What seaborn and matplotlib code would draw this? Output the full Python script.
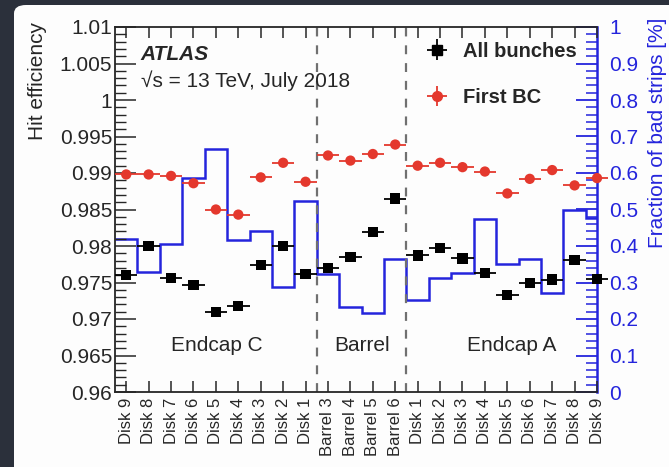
import numpy as np
import pandas as pd
import matplotlib
matplotlib.use("Agg")
import matplotlib.pyplot as plt
from matplotlib.patches import FancyBboxPatch
from matplotlib.ticker import MultipleLocator, FuncFormatter
import seaborn as sns

# ---- data -------------------------------------------------------------
layers = ["Disk 9", "Disk 8", "Disk 7", "Disk 6", "Disk 5", "Disk 4", "Disk 3",
          "Disk 2", "Disk 1", "Barrel 3", "Barrel 4", "Barrel 5", "Barrel 6",
          "Disk 1", "Disk 2", "Disk 3", "Disk 4", "Disk 5", "Disk 6", "Disk 7",
          "Disk 8", "Disk 9"]

eff_all_bunches = [0.9760, 0.9800, 0.9756, 0.9747, 0.9710, 0.9718, 0.9774,
                   0.9800, 0.9762, 0.9770, 0.9785, 0.9819, 0.9865,
                   0.9787, 0.9797, 0.9783, 0.9763, 0.9733, 0.9749, 0.9754,
                   0.9781, 0.9755]

eff_first_bc = [0.9898, 0.9898, 0.9896, 0.9886, 0.9850, 0.9843, 0.9894,
                0.9914, 0.9888, 0.9924, 0.9917, 0.9926, 0.9939,
                0.9910, 0.9914, 0.9908, 0.9902, 0.9872, 0.9892, 0.9904,
                0.9883, 0.9893]

bad_strip_fraction = [0.418, 0.330, 0.405, 0.585, 0.666, 0.416, 0.442,
                      0.288, 0.524, 0.322, 0.234, 0.217, 0.364,
                      0.252, 0.313, 0.325, 0.473, 0.350, 0.364, 0.270,
                      0.500, 0.476]

regions = ["Endcap C", "Barrel", "Endcap A"]

# ---- style ------------------------------------------------------------
sns.set_theme(style="ticks")
plt.rcParams["font.family"] = ["Liberation Sans", "DejaVu Sans"]
plt.rcParams["axes.linewidth"] = 1.3

BLUE = "#2424dc"
RED = "#e4382d"
FS = 15

x = np.arange(len(layers))
df = pd.DataFrame({"x": np.concatenate([x, x]),
                   "eff": eff_all_bunches + eff_first_bc,
                   "sample": ["All bunches"] * len(x) + ["First BC"] * len(x)})

fig = plt.figure(figsize=(6.69, 4.67), dpi=100)
fig.patch.set_facecolor("#2b303b")
card = FancyBboxPatch((14 / 669, -0.1), 1.2, 1.1 - 5 / 467,
                      boxstyle="round,pad=0,rounding_size=0.018",
                      transform=fig.transFigure, facecolor="#fdfdfd",
                      edgecolor="none", zorder=-5)
fig.patches.append(card)

ax = fig.add_axes([115 / 669, 1 - 392 / 467, 482 / 669, 365 / 467])
ax2 = ax.twinx()
ax2.set_zorder(1)
ax.set_zorder(2)
ax.patch.set_visible(False)
ax2.patch.set_visible(False)

# bad-strip fraction histogram on the right-hand scale
edges = np.arange(len(layers) + 1) - 0.5
ax2.stairs(bad_strip_fraction, edges, color=BLUE, lw=1.8, baseline=None)
ax2.set_ylim(0, 1)

# efficiencies with horizontal bin-width bars
for col, color in [("All bunches", "black"), ("First BC", RED)]:
    sub = df[df["sample"] == col]
    ax.errorbar(sub["x"], sub["eff"], xerr=0.5, yerr=0.0001, fmt="none",
                ecolor=color, elinewidth=1.3, capsize=0, clip_on=False, zorder=3)
sns.scatterplot(data=df, x="x", y="eff", hue="sample", style="sample",
                palette={"All bunches": "black", "First BC": RED},
                markers={"All bunches": "s", "First BC": "o"},
                s=55, edgecolor="none", legend=False, ax=ax, zorder=4,
                clip_on=False)

ax.set_xlim(-0.5, len(layers) - 1)
ax2.set_xlim(-0.5, len(layers) - 1)
ax.set_ylim(0.96, 1.01)
ax.set_xlabel("")
ax.set_ylabel("")

# region separators and labels
for xs in (8.5, 12.5):
    ax.axvline(xs, color="#707070", lw=1.6, ls=(0, (4, 4)), zorder=2)
for xr, name in zip((4.05, 10.5, 17.2), regions):
    ax.text(xr, 0.9664, name, fontsize=FS, ha="center", va="center")

# axis ticks
ax.set_xticks(x)
ax.set_xticklabels(layers, rotation=90, fontsize=12)
ax.tick_params(axis="x", direction="in", length=8, width=1.1, top=True,
               bottom=True, pad=4)
ax.yaxis.set_major_locator(MultipleLocator(0.005))
ax.yaxis.set_minor_locator(MultipleLocator(0.001))
ax.yaxis.set_major_formatter(FuncFormatter(lambda v, p: f"{v:g}"))
ax.tick_params(axis="y", which="major", direction="in", length=15, width=1.1,
               labelsize=FS, pad=2, right=False)
ax.tick_params(axis="y", which="minor", direction="in", length=8, width=1.0,
               right=False)
ax.spines["right"].set_visible(False)

ax2.yaxis.set_major_locator(MultipleLocator(0.1))
ax2.yaxis.set_minor_locator(MultipleLocator(0.02))
ax2.yaxis.set_major_formatter(FuncFormatter(lambda v, p: f"{v:g}"))
ax2.tick_params(axis="y", which="major", direction="in", length=15, width=1.3,
                color=BLUE, labelcolor=BLUE, labelsize=FS, pad=9)
ax2.tick_params(axis="y", which="minor", direction="in", length=8, width=1.1,
                color=BLUE)
ax2.spines["right"].set_color(BLUE)
ax2.spines["right"].set_linewidth(1.8)
for s in ("left", "top", "bottom"):
    ax2.spines[s].set_visible(False)

# axis titles, aligned to the top end
ax.text(-0.160, 1.014, "Hit efficiency", rotation=90, ha="center", va="top",
        fontsize=FS, transform=ax.transAxes)
ax.text(1.125, 1.025, "Fraction of bad strips [%]", rotation=90, ha="center",
        va="top", fontsize=FS, color=BLUE, transform=ax.transAxes, clip_on=False)

# experiment label
ax.text(0.053, 0.925, "ATLAS", fontsize=FS, fontweight="bold", style="italic",
        ha="left", va="center", transform=ax.transAxes)
ax.text(0.053, 0.852, "\u221as = 13 TeV, July 2018", fontsize=FS, ha="left",
        va="center", transform=ax.transAxes)

# legend
h_all = ax.errorbar([np.nan], [np.nan], xerr=[0.5], yerr=[0.001], fmt="s",
                    color="black", ms=6.5, elinewidth=1.3, capsize=0)
h_bc = ax.errorbar([np.nan], [np.nan], xerr=[0.5], yerr=[0.001], fmt="o",
                   color=RED, ms=7, elinewidth=1.3, capsize=0)
ax.legend([h_all, h_bc], ["All bunches", "First BC"], loc="upper left",
          bbox_to_anchor=(0.63, 0.96), frameon=False, borderaxespad=0,
          borderpad=0, handlelength=1.8, handletextpad=0.4, labelspacing=1.35,
          prop={"weight": "bold", "size": 14.5})

fig.savefig("out.png", dpi=100, facecolor=fig.get_facecolor())
